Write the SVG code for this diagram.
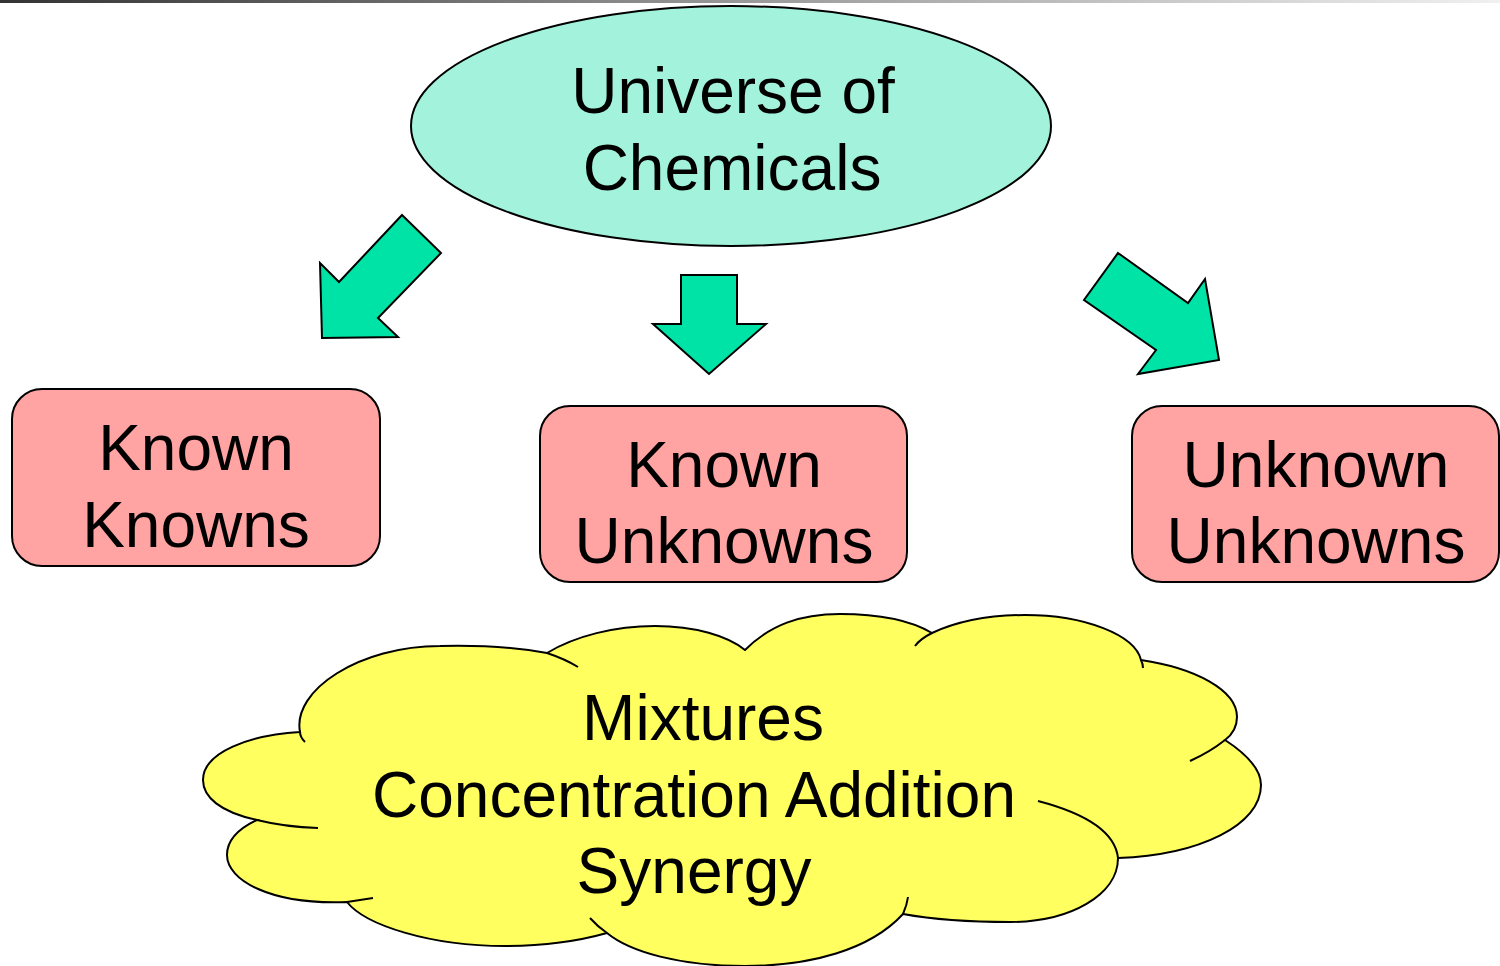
<svg xmlns="http://www.w3.org/2000/svg" width="1500" height="966" viewBox="0 0 1500 966">
<defs>
<linearGradient id="topbar" x1="0" y1="0" x2="1" y2="0">
<stop offset="0" stop-color="#333333"/>
<stop offset="0.5" stop-color="#9a9a9a"/>
<stop offset="1" stop-color="#f0f0f0"/>
</linearGradient>
</defs>
<style>
text{font-family:"Liberation Sans",Arial,sans-serif;font-size:64px;fill:#000;text-anchor:middle}
.box{fill:#ffa3a3;stroke:#000;stroke-width:2}
.arrow{fill:#00e3a7;stroke:#000;stroke-width:2;stroke-linejoin:miter}
.cloud{fill:#ffff5f;stroke:#000;stroke-width:2}
.tick{fill:none;stroke:#000;stroke-width:2}
</style>
<rect x="0" y="0" width="1500" height="966" fill="#ffffff"/>
<rect x="0" y="0" width="1500" height="3" fill="url(#topbar)"/>

<g id="universe">
<ellipse cx="731" cy="126" rx="320" ry="120" fill="#a3f3dc" stroke="#000" stroke-width="2"/>
<text x="733" y="113">Universe of</text>
<text x="732" y="190">Chemicals</text>
</g>

<g id="connectors">
<polygon class="arrow" points="402,215 441,253 378,318 398,337 322,338 320,263 339,282"/>
<polygon class="arrow" points="681,275 737,275 737,324 766,324 709,374 653,324 681,324"/>
<polygon class="arrow" points="1118,253 1188,303 1205,279 1219,360 1138,374 1156,350 1084,300"/>
</g>

<g id="known-knowns">
<rect class="box" x="12" y="389" width="368" height="177" rx="30" ry="30"/>
<text x="196" y="470">Known</text>
<text x="196" y="547">Knowns</text>
</g>

<g id="known-unknowns">
<rect class="box" x="540" y="406" width="367" height="176" rx="30" ry="30"/>
<text x="724" y="487">Known</text>
<text x="724" y="563">Unknowns</text>
</g>

<g id="unknown-unknowns">
<rect class="box" x="1132" y="406" width="367" height="176" rx="30" ry="30"/>
<text x="1316" y="487">Unknown</text>
<text x="1316" y="563">Unknowns</text>
</g>

<g id="mixtures">
<path class="cloud" d="M300,732 C292,690 360,646 440,646 C480,645 520,648 547,653 C575,636 615,626 655,626 C695,626 728,636 745,650 C770,625 800,614 840,614 C880,614 910,620 932,633 C960,620 990,615 1025,615 C1085,615 1135,635 1141,660 C1195,668 1237,690 1237,717 C1237,726 1233,734 1225,740 C1248,755 1261,770 1261,785 C1261,825 1200,855 1118,858 C1118,895 1070,922 1010,922 C965,922 925,918 903,914 C870,950 810,966 745,966 C680,966 630,952 607,933 C575,942 545,946 505,946 C430,946 365,925 347,902 C270,905 227,880 227,855 C227,840 240,828 257,820 C220,812 203,797 203,780 C203,752 250,735 300,732 Z"/>
<path class="tick" d="M300,732 Q300,737 305,742"/>
<path class="tick" d="M547,653 Q565,659 578,667"/>
<path class="tick" d="M932,633 Q920,639 915,646"/>
<path class="tick" d="M1141,660 Q1143,664 1143,668"/>
<path class="tick" d="M1225,740 Q1210,752 1190,761"/>
<path class="tick" d="M1118,858 C1115,830 1080,812 1038,801"/>
<path class="tick" d="M903,914 Q907,905 908,897"/>
<path class="tick" d="M607,933 Q597,926 590,918"/>
<path class="tick" d="M347,902 Q360,900 373,898"/>
<path class="tick" d="M257,820 Q285,827 318,828"/>
<text x="703" y="740">Mixtures</text>
<text x="694" y="817">Concentration Addition</text>
<text x="694" y="893">Synergy</text>
</g>
</svg>
